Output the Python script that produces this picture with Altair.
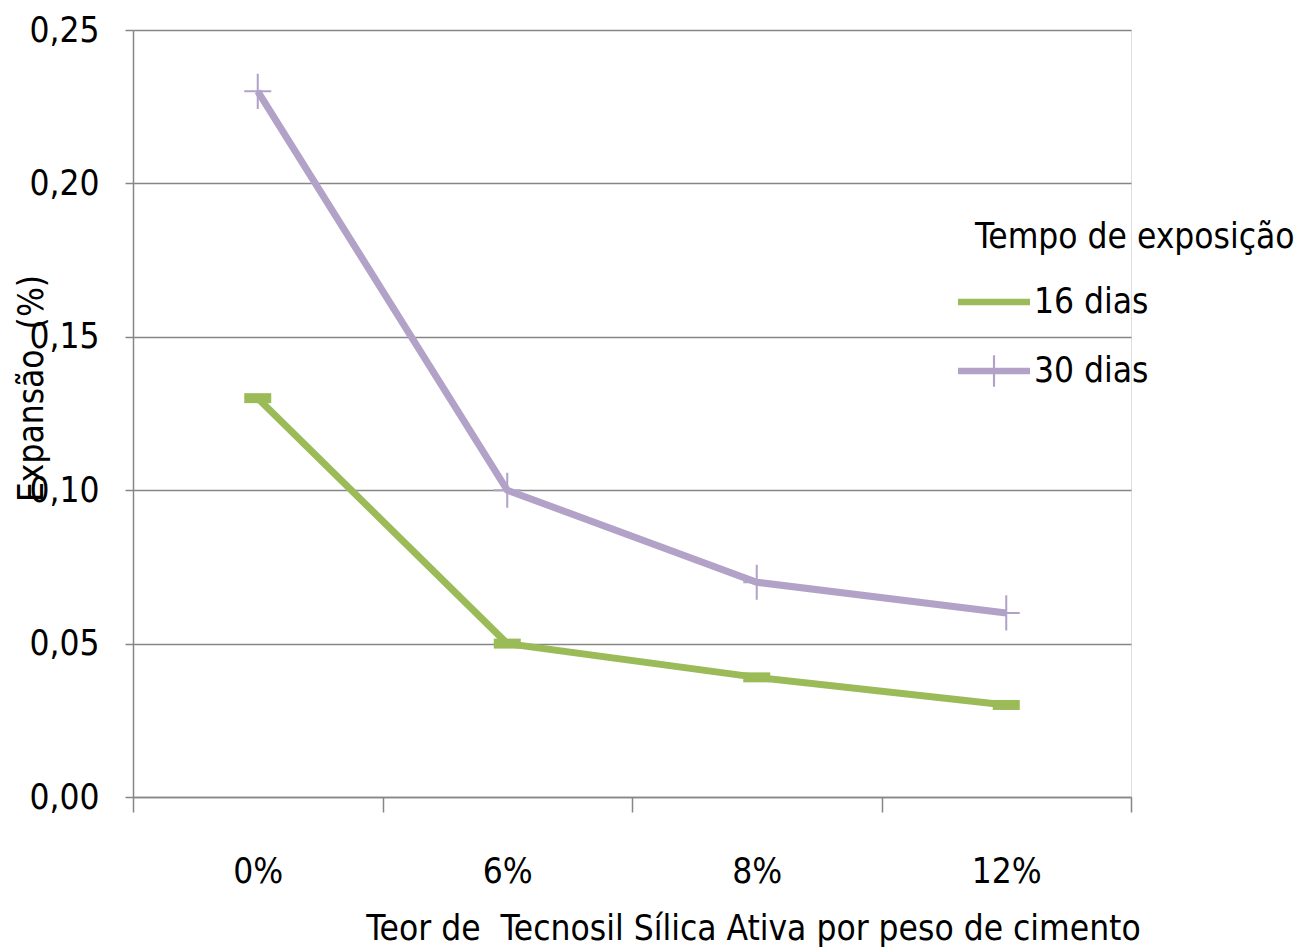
import altair as alt
import pandas as pd

categories = ["0%", "6%", "8%", "12%"]
series_names = ["16 dias", "30 dias"]
values_16 = [0.13, 0.05, 0.039, 0.03]
values_30 = [0.23, 0.10, 0.07, 0.06]
y_ticks = [0.0, 0.05, 0.10, 0.15, 0.20, 0.25]

rows = []
for c, v in zip(categories, values_16):
    rows.append({"cat": c, "serie": series_names[0], "val": v})
for c, v in zip(categories, values_30):
    rows.append({"cat": c, "serie": series_names[1], "val": v})
df = pd.DataFrame(rows)

FONT = "DejaVu Sans Condensed, sans-serif"
FS = 35
GREEN = "#9BBB59"
PURPLE = "#B3A2C7"
GRID = "#868686"

color_scale = alt.Scale(domain=series_names, range=[GREEN, PURPLE])

x_enc = alt.X(
    "cat:N",
    sort=categories,
    scale=alt.Scale(paddingInner=0, paddingOuter=0),
    axis=alt.Axis(
        title="Teor de\u00a0 Tecnosil Sílica Ativa por peso de cimento",
        titleFont=FONT, titleFontSize=FS, titleFontWeight="normal", titleColor="black",
        titleX=620, titleY=142, titleAlign="center", titleBaseline="alphabetic",
        labelFont=FONT, labelFontSize=FS, labelColor="black", labelAngle=0,
        labelPadding=42, labelBaseline="top",
        tickBand="extent", tickSize=15, tickColor=GRID, tickWidth=1.5,
        domainColor=GRID, domainWidth=1.5, grid=False,
    ),
)
y_enc = alt.Y(
    "val:Q",
    scale=alt.Scale(domain=[0, 0.25], nice=False, zero=True),
    axis=alt.Axis(
        title="Expansão\u00a0 (%)",
        titleFont=FONT, titleFontSize=FS, titleFontWeight="normal", titleColor="black",
        titleAngle=270, titleX=-102, titleY=358, titleAlign="center", titleBaseline="middle",
        values=y_ticks,
        labelExpr="replace(format(datum.value, '.2f'), '.', ',')",
        labelFont=FONT, labelFontSize=FS, labelColor="black", labelPadding=26,
        tickSize=8, tickColor=GRID, tickWidth=1.5,
        domainColor=GRID, domainWidth=1.5,
        grid=True, gridColor=GRID, gridWidth=1.5,
    ),
)

base = alt.Chart(df)

legend_shapes = [
    "M-1,-0.09H1V0.09H-1Z",
    "M-1,-0.09H1V0.09H-1Z M-0.03,-0.44H0.03V0.44H-0.03Z",
]

# legend-only layer: no rows drawn, the legend comes from the explicit scale domains
leg = base.transform_filter(alt.datum.val < 0).mark_point(filled=True, opacity=1, size=10).encode(
    x=x_enc, y=y_enc,
    color=alt.Color(
        "serie:N", scale=color_scale,
        legend=alt.Legend(
            title="Tempo de exposição", orient="none", legendX=842, legendY=190,
            titleFont=FONT, titleFontSize=FS, titleFontWeight="normal", titleColor="black",
            titlePadding=11, titleLimit=500, labelLimit=300,
            labelFont=FONT, labelFontSize=FS, labelColor="black", labelOffset=4,
            symbolSize=5184, symbolOffset=-17, symbolStrokeWidth=0, symbolOpacity=1,
            rowPadding=15,
        ),
    ),
    shape=alt.Shape("serie:N", scale=alt.Scale(domain=series_names, range=legend_shapes)),
)

lines = base.mark_line(strokeWidth=7).encode(
    x=x_enc, y=y_enc,
    color=alt.Color("serie:N", scale=color_scale, legend=None),
    detail="serie:N",
)

m16 = base.transform_filter(alt.datum.serie == series_names[0]).mark_point(
    shape="M-1,-0.37H1V0.37H-1Z", filled=True, size=729, opacity=1, strokeWidth=0
).encode(x=x_enc, y=y_enc, color=alt.Color("serie:N", scale=color_scale, legend=None))

m30 = base.transform_filter(alt.datum.serie == series_names[1]).mark_point(
    shape="M-1,-0.075H1V0.075H-1Z M-0.075,-1.3H0.075V1.3H-0.075Z",
    filled=True, size=729, opacity=1, strokeWidth=0
).encode(x=x_enc, y=y_enc, color=alt.Color("serie:N", scale=color_scale, legend=None))

chart = alt.layer(leg, lines, m16, m30).properties(
    width=998, height=767,
    autosize=alt.AutoSizeParams(type="none"),
    padding={"left": 133, "top": 30, "right": 168, "bottom": 155},
).configure_view(stroke=None).configure(background="white")

chart.save("out.html", embed_options={"renderer": "svg", "actions": False})
